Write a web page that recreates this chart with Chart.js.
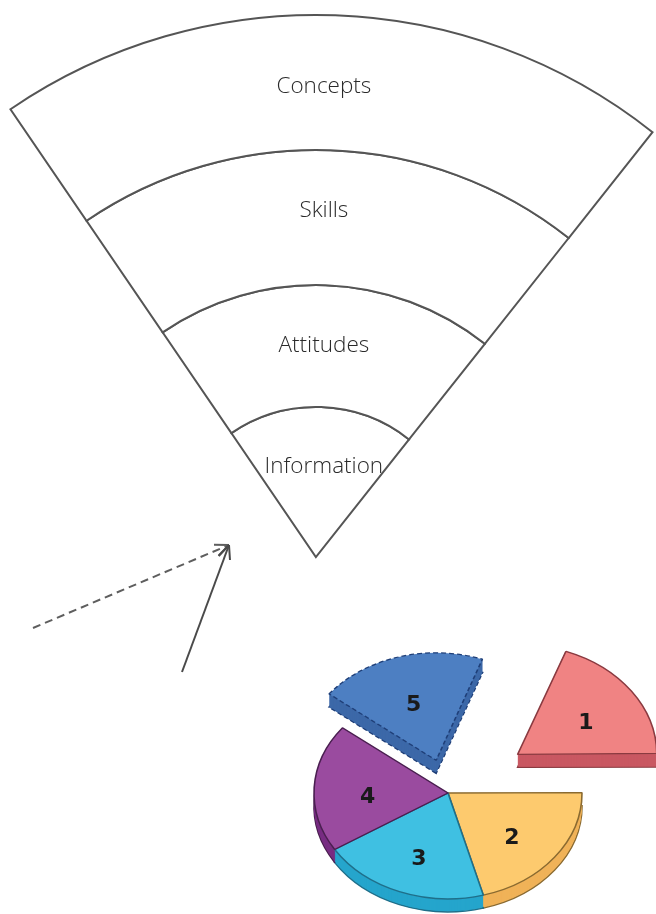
<!DOCTYPE html>
<html>
<head>
<meta charset="utf-8">
<script src="https://cdn.jsdelivr.net/npm/chart.js@4.4.1/dist/chart.umd.min.js"></script>
<style>
  html, body { margin: 0; padding: 0; background: #fff; }
  #page { position: relative; width: 656px; height: 914px; overflow: hidden; }
  canvas { position: absolute; }
</style>
</head>
<body>
<div id="page">
  <canvas id="fan" width="656" height="914" style="left:0;top:0"></canvas>
  <canvas id="arrows" width="656" height="914" style="left:0;top:0"></canvas>
  <canvas id="pie" width="380" height="284" style="left:290px;top:630px"></canvas>
</div>
<script>
// fan layers, outer -> inner, with their ring thickness (weight)
const fanLayers = ["Concepts", "Skills", "Attitudes", "Information"];
const fanWeights = [135, 135, 122, 150];

// the two arrows, in page units
const dashedArrow = [{ x: 33, y: 628 }, { x: 229, y: 545 }];
const solidArrow = [{ x: 182, y: 672 }, { x: 229, y: 545 }];

// pie slices
const pieLabels = ["1", "2", "3", "4", "5"];
const pieShares = [19.4, 20.8, 20.3, 19.5, 20.0];

const TILT = 0.79;   // vertical squash of the pie
const DEPTH = 13;    // thickness of the pie side

// --- fan ---
const fanText = {
  id: "fanText",
  afterDatasetsDraw(chart) {
    const ctx = chart.ctx;
    ctx.save();
    ctx.fillStyle = "#2a2a2a";
    ctx.font = '300 22.5px "Open Sans", sans-serif';
    ctx.textAlign = "center";
    ctx.textBaseline = "middle";
    const f = [0.47, 0.55, 0.5, 0.6];
    chart.data.datasets.forEach((ds, i) => {
      const arc = chart.getDatasetMeta(i).data[0];
      if (!arc) return;
      const p = arc.getProps(["x", "y", "innerRadius", "outerRadius"]);
      const r = p.innerRadius + (p.outerRadius - p.innerRadius) * f[i];
      ctx.fillText(ds.label, p.x + 8, p.y - r);
    });
    ctx.restore();
  },
};

new Chart(document.getElementById("fan"), {
  type: "doughnut",
  data: {
    labels: ["layer"],
    datasets: fanLayers.map((name, i) => ({
      label: name,
      data: [1],
      weight: fanWeights[i],
      backgroundColor: "#fff",
      borderColor: "#555",
      borderWidth: 2,
      borderJoinStyle: "miter",
    })),
  },
  options: {
    responsive: false,
    animation: false,
    events: [],
    rotation: -34.3,
    circumference: 72.7,
    cutout: "0%",
    radius: 542,
    layout: { padding: { left: 7, right: 0, top: 0, bottom: 342 } },
    plugins: { legend: { display: false }, tooltip: { enabled: false } },
  },
  plugins: [fanText],
});

// --- arrows ---
const arrowHeads = {
  id: "arrowHeads",
  afterDatasetsDraw(chart) {
    const ctx = chart.ctx;
    chart.data.datasets.forEach((ds, i) => {
      const pts = chart.getDatasetMeta(i).data;
      if (pts.length < 2) return;
      const tip = pts[pts.length - 1], prev = pts[pts.length - 2];
      const a = Math.atan2(tip.y - prev.y, tip.x - prev.x);
      ctx.save();
      ctx.strokeStyle = ds.borderColor;
      ctx.lineWidth = 2;
      ctx.beginPath();
      [-0.42, 0.42].forEach((da) => {
        ctx.moveTo(tip.x, tip.y);
        ctx.lineTo(tip.x - Math.cos(a + da) * 15, tip.y - Math.sin(a + da) * 15);
      });
      ctx.stroke();
      ctx.restore();
    });
  },
};

new Chart(document.getElementById("arrows"), {
  type: "scatter",
  data: {
    datasets: [
      { data: dashedArrow, showLine: true, borderColor: "#5e5e5e", borderWidth: 2, borderDash: [8, 5], pointRadius: 0 },
      { data: solidArrow, showLine: true, borderColor: "#4a4a4a", borderWidth: 2, pointRadius: 0 },
    ],
  },
  options: {
    responsive: false,
    animation: false,
    events: [],
    layout: { padding: 0 },
    plugins: { legend: { display: false }, tooltip: { enabled: false } },
    scales: {
      x: { type: "linear", min: 0, max: 656, display: false },
      y: { type: "linear", min: 0, max: 914, reverse: true, display: false },
    },
  },
  plugins: [arrowHeads],
});

// --- 3d pie ---
function squash(ctx, cx, cy) {
  ctx.translate(cx, cy);
  ctx.scale(1, TILT);
  ctx.translate(-cx, -cy);
}

// same geometry the arc element uses when it draws an offset slice
function sliceGeom(arc) {
  const p = arc.getProps(["x", "y", "startAngle", "endAngle", "outerRadius"]);
  const off = (arc.options.offset || 0) / 4;
  const mid = (p.startAngle + p.endAngle) / 2;
  const fix = 1 - Math.sin(Math.min(Math.PI, p.endAngle - p.startAngle));
  return {
    x: p.x + Math.cos(mid) * off,
    y: p.y + Math.sin(mid) * off,
    r: p.outerRadius + off * fix,
    s: p.startAngle, e: p.endAngle, mid, off,
  };
}

const sideColors = ["#c95862", "#f0b258", "#25a5cc", "#782d82", "#3c68a8"];
const edgeColors = ["#8a3a40", "#8a6a30", "#1f6f8a", "#4a1f50", "#1f3f78"];

const pie3d = {
  id: "pie3d",
  beforeDatasetsDraw(chart) {
    const ctx = chart.ctx;
    const arcs = chart.getDatasetMeta(0).data;
    const cx = arcs[0].x, cy = arcs[0].y;
    // side walls: stacked copies of each slice, shifted down
    for (let d = DEPTH; d >= 1; d--) {
      arcs.forEach((arc, i) => {
        const g = sliceGeom(arc);
        ctx.save();
        ctx.translate(0, d);
        squash(ctx, cx, cy);
        ctx.beginPath();
        ctx.moveTo(g.x, g.y);
        ctx.arc(g.x, g.y, g.r, g.s, g.e);
        ctx.closePath();
        ctx.fillStyle = sideColors[i];
        ctx.fill();
        if (d === DEPTH) {
          ctx.setLineDash(i === 4 ? [5, 3] : []);
          ctx.lineWidth = 1.6;
          ctx.strokeStyle = edgeColors[i];
          ctx.stroke();
        }
        ctx.restore();
      });
    }
    ctx.save();
    squash(ctx, cx, cy);
  },
  afterDatasetsDraw(chart) {
    const ctx = chart.ctx;
    ctx.restore();
    const arcs = chart.getDatasetMeta(0).data;
    const cx = arcs[0].x, cy = arcs[0].y;
    ctx.save();
    ctx.fillStyle = "#1a1a1a";
    ctx.font = 'bold 22px "DejaVu Sans", sans-serif';
    ctx.textAlign = "center";
    ctx.textBaseline = "middle";
    arcs.forEach((arc, i) => {
      const g = sliceGeom(arc);
      const r = g.r * 0.6 + g.off;
      ctx.fillText(chart.data.labels[i], cx + Math.cos(g.mid) * r, cy + Math.sin(g.mid) * r * TILT + 7);
    });
    ctx.restore();
  },
};

new Chart(document.getElementById("pie"), {
  type: "pie",
  data: {
    labels: pieLabels,
    datasets: [{
      data: pieShares,
      backgroundColor: ["#f08383", "#fdca6e", "#3fc0e2", "#9a4b9f", "#4d7fc2"],
      borderColor: edgeColors,
      borderWidth: 1.6,
      borderDash: (c) => (c.dataIndex === 4 ? [5, 3] : []),
      offset: [340, 0, 0, 0, 172],
      clip: false,
    }],
  },
  options: {
    responsive: false,
    animation: false,
    events: [],
    rotation: 20,
    radius: 134,
    cutout: "0%",
    layout: { padding: { left: 0, right: 64, top: 42, bottom: 0 } },
    plugins: { legend: { display: false }, tooltip: { enabled: false } },
  },
  plugins: [pie3d],
});
</script>
</body>
</html>
